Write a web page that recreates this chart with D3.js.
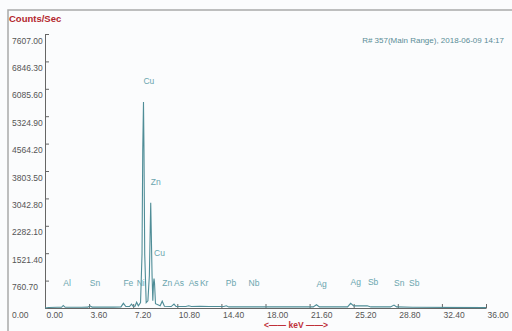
<!DOCTYPE html>
<html>
<head>
<meta charset="utf-8">
<script src="https://cdnjs.cloudflare.com/ajax/libs/d3/7.8.5/d3.min.js"></script>
<style>
  body { margin: 0; background: #fff; }
  svg { display: block; font-family: "Liberation Sans", Arial, sans-serif; }
</style>
</head>
<body>
<div id="chart"></div>
<script>
// spectrum: energy (keV) and counts per second
var energy = [0.00, 0.30, 1.00, 1.35, 1.49, 1.65, 3.00, 3.50, 3.66, 3.85, 5.60, 6.20, 6.40, 6.60, 6.90, 7.06, 7.20, 7.35, 7.48, 7.62,
              7.80, 7.92, 7.98, 8.04, 8.08, 8.14, 8.26, 8.40, 8.52, 8.59, 8.63, 8.67, 8.74, 8.80, 8.86, 8.90, 8.94, 9.02, 9.40, 9.57,
              9.75, 10.30, 10.53, 10.70, 11.50, 11.73, 11.95, 12.65, 13.40, 14.60, 14.80, 15.00, 16.60, 21.90, 22.16, 22.40, 24.70, 24.95, 25.20, 25.50,
              26.30, 26.60, 28.20, 28.49, 28.70, 30.00, 36.00];
var counts = [0, 15, 20, 20, 70, 20, 20, 25, 60, 25, 25, 30, 130, 40, 40, 110, 45, 50, 160, 60,
              150, 1500, 4400, 5720, 4400, 1500, 150, 200, 900, 2200, 2920, 2200, 900, 200, 700, 820, 700, 120, 60, 190,
              50, 40, 110, 40, 40, 60, 40, 50, 40, 40, 60, 30, 30, 30, 90, 30, 30, 130, 60, 60,
              60, 30, 30, 80, 30, 20, 10];

var yTicks = [0, 760.70, 1521.40, 2282.10, 3042.80, 3803.50, 4564.20, 5324.90, 6085.60, 6846.30, 7607.00];
var xTicks = [0, 3.60, 7.20, 10.80, 14.40, 18.00, 21.60, 25.20, 28.80, 32.40, 36.00];

// element markers
var markName = ["Cu", "Zn", "Cu", "Al", "Sn", "Fe", "Ni", "Zn", "As", "As", "Kr", "Pb", "Nb", "Ag", "Ag", "Sb", "Sn", "Sb"];
var markKev  = [8.04, 8.63, 8.90, 1.49, 3.66, 6.40, 7.48, 9.57, 10.53, 11.73, 12.65, 14.76, 16.62, 22.16, 24.94, 26.36, 28.49, 29.72];
var markCps  = [6220, 3410, 1440, 610, 610, 610, 610, 610, 610, 610, 610, 610, 610, 580, 640, 640, 610, 610];

var margin = {top: 34, right: 26, bottom: 23, left: 45},
    W = 512, H = 331,
    width = W - margin.left - margin.right,
    height = H - margin.top - margin.bottom;

var svg = d3.select("#chart").append("svg")
    .attr("width", W)
    .attr("height", H);

svg.append("rect").attr("width", W).attr("height", H).attr("fill", "#fbfcfd");

// frame lines
svg.append("path")
    .attr("d", "M8," + H + "V10H" + W)
    .attr("fill", "none")
    .attr("stroke", "#a9a9a9")
    .attr("stroke-width", 1.5);

var vis = svg.append("g")
    .attr("transform", "translate(" + margin.left + "," + margin.top + ")");

var x = d3.scaleLinear().domain([0, 36]).range([0, width]);
var y = d3.scaleLinear().domain([0, 7607]).range([height, 0]);

var xAxis = d3.axisBottom(x)
    .tickValues(xTicks)
    .tickSize(-4)
    .tickSizeOuter(0)
    .tickFormat(d3.format(".2f"));

var yAxis = d3.axisRight(y)
    .tickValues(yTicks)
    .tickSize(4)
    .tickSizeOuter(0)
    .tickFormat(d3.format(".2f"));

var gy = vis.append("g").call(yAxis);
gy.selectAll("text")
    .attr("x", -33)
    .attr("dy", 9)
    .attr("text-anchor", "start");

var gx = vis.append("g")
    .attr("transform", "translate(0," + height + ")")
    .call(xAxis);
gx.selectAll("text")
    .attr("x", 1)
    .attr("y", 10)
    .attr("dy", 0)
    .attr("text-anchor", "start");

vis.selectAll(".domain, .tick line").attr("stroke", "#666").attr("stroke-width", 1);
vis.selectAll(".tick text").attr("fill", "#555").style("font-size", "8.5px");

var pts = energy.map(function(e, i) { return [e, counts[i]]; });

var line = d3.line()
    .x(function(d) { return x(d[0]); })
    .y(function(d) { return y(d[1]); });

vis.append("path")
    .datum(pts)
    .attr("d", line)
    .attr("fill", "none")
    .attr("stroke", "#4f8d97")
    .attr("stroke-width", 1.1);

vis.append("g").selectAll("text")
    .data(markName)
    .enter().append("text")
        .attr("x", function(d, i) { return x(markKev[i]); })
        .attr("y", function(d, i) { return y(markCps[i]); })
        .attr("fill", "#6aa5ae")
        .style("font-size", "8.5px")
        .text(function(d) { return d; });

// titles
svg.append("text")
    .attr("x", 9)
    .attr("y", 22)
    .attr("fill", "#b3262c")
    .style("font-size", "9.5px")
    .style("font-weight", "bold")
    .text("Counts/Sec");

svg.append("text")
    .attr("x", 504)
    .attr("y", 43)
    .attr("text-anchor", "end")
    .attr("fill", "#5a8c96")
    .style("font-size", "8px")
    .text("R# 357(Main Range), 2018-06-09 14:17");

svg.append("text")
    .attr("x", 296)
    .attr("y", 328)
    .attr("text-anchor", "middle")
    .attr("fill", "#c0303a")
    .style("font-size", "8.5px")
    .style("font-weight", "bold")
    .text("<\u2014\u2014 keV \u2014\u2014>");
</script>
</body>
</html>
